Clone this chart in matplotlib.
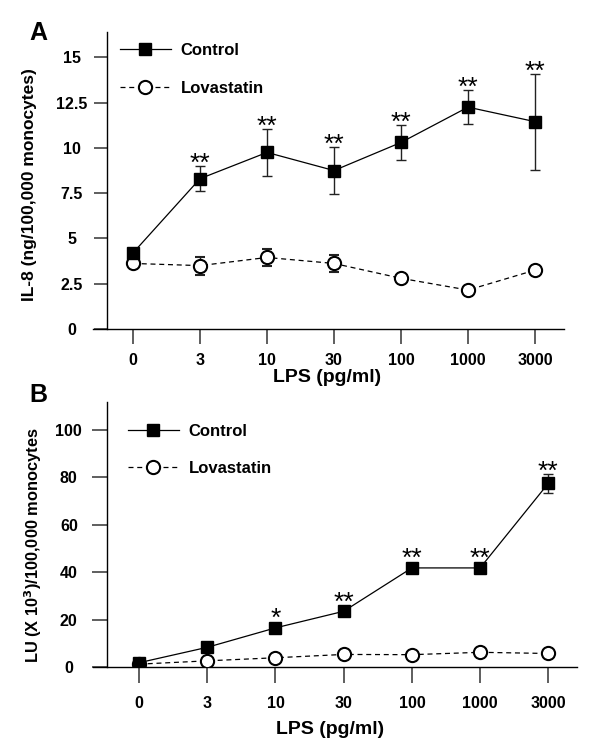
import matplotlib.pyplot as plt
from matplotlib.lines import Line2D

plt.rcParams['font.family'] = ['Liberation Sans', 'DejaVu Sans']

doses = ["0", "3", "10", "30", "100", "1000", "3000"]

# panel A: IL-8 (ng/100,000 monocytes)
il8_control = [4.2, 8.3, 9.75, 8.75, 10.3, 12.25, 11.45]
il8_control_err = [0.2, 0.7, 1.3, 1.3, 0.95, 0.93, 2.65]
il8_lova = [3.62, 3.5, 3.95, 3.62, 2.8, 2.15, 3.25]
il8_lova_err = [0.1, 0.5, 0.45, 0.45, 0.1, 0.2, 0.1]
il8_stars = ["", "**", "**", "**", "**", "**", "**"]

# panel B: LU (x10^3)/100,000 monocytes
lu_control = [1.8, 8.3, 16.5, 23.5, 41.8, 41.8, 77.5]
lu_control_err = [0.5, 1.0, 1.2, 1.0, 1.5, 1.5, 4.0]
lu_lova = [1.2, 2.6, 3.9, 5.3, 5.2, 6.2, 5.7]
lu_lova_err = [0.3, 0.4, 0.5, 0.5, 0.5, 0.6, 0.5]
lu_stars = ["", "", "*", "**", "**", "**", "**"]

DPI = 100
W, H = 600, 752
fig = plt.figure(figsize=(W / DPI, H / DPI), dpi=DPI)


def panel(box, ctrl, ctrl_err, lova, lova_err, stars, ylim, yticks, yticklabels,
          xlim, spine_x, ylen, ypad, xlen, xpad, leg_xy, leg_space):
    x0, y0, x1, y1 = box
    ax = fig.add_axes([x0 / W, 1 - y1 / H, (x1 - x0) / W, (y1 - y0) / H])
    xs = list(range(len(doses)))

    ax.errorbar(xs, lova, yerr=lova_err, color="black", lw=0.9,
                ls=(0, (4, 3)), marker="o", ms=9.5, mfc="white", mec="black",
                mew=1.5, ecolor="#222222", elinewidth=1, capsize=3.5,
                capthick=1, zorder=3)
    ax.errorbar(xs, ctrl, yerr=ctrl_err, color="black", lw=0.9, marker="s",
                ms=9, mfc="black", mec="black", ecolor="#222222",
                elinewidth=1, capsize=3.5, capthick=1, zorder=4)

    for s in ("top", "right"):
        ax.spines[s].set_visible(False)
    ax.spines["left"].set_position(("data", spine_x))
    ax.spines["left"].set_linewidth(1.0)
    ax.spines["bottom"].set_linewidth(1.0)

    ax.set_xlim(*xlim)
    ax.set_ylim(*ylim)
    ax.set_xticks(xs)
    ax.set_xticklabels(doses, fontsize=11.5, fontweight="bold")
    ax.set_yticks(yticks)
    ax.set_yticklabels(yticklabels, fontsize=11.5, fontweight="bold",
                       ha="center")
    ax.tick_params(axis="y", direction="out", length=ylen, width=1.1,
                   pad=ypad, color="#333333")
    ax.tick_params(axis="x", direction="out", length=xlen, width=1.1,
                   pad=xpad, color="#333333")

    # significance marks above each control point
    px_per_unit = (y1 - y0) / (ylim[1] - ylim[0])
    fs = 19
    for i, s in enumerate(stars):
        if not s:
            continue
        top_px = max(ctrl_err[i] * px_per_unit, 6.5)
        off_px = top_px + 10.5 - 0.58 * fs * DPI / 72
        ax.annotate(s, xy=(i, ctrl[i]), xytext=(0, off_px * 72 / DPI),
                    textcoords="offset points", ha="center", va="baseline",
                    fontsize=fs)

    h_c = Line2D([], [], color="black", lw=0.9, marker="s", ms=9)
    h_l = Line2D([], [], color="black", lw=0.9, ls=(0, (4, 3)), marker="o",
                 ms=9.5, mfc="white", mec="black", mew=1.5)
    ax.legend([h_c, h_l], ["Control", "Lovastatin"], loc="upper left",
              bbox_to_anchor=(leg_xy[0] / W, 1 - leg_xy[1] / H),
              bbox_transform=fig.transFigure, frameon=False, borderpad=0,
              borderaxespad=0, handlelength=3.05, handletextpad=0.6,
              labelspacing=leg_space, numpoints=1,
              prop={"size": 12, "weight": "bold"})
    return ax


panel((93, 32, 564, 329), il8_control, il8_control_err, il8_lova, il8_lova_err,
      il8_stars, (0, 16.4), [0, 2.5, 5, 7.5, 10, 12.5, 15],
      ["0", "2.5", "5", "7.5", "10", "12.5", "15"],
      (-0.597, 6.433), -0.388, 9.4, 15.8, 10.8, 6.5, (120, 43), 1.38)

panel((93, 402, 577, 667), lu_control, lu_control_err, lu_lova, lu_lova_err,
      lu_stars, (0, 111.8), [0, 20, 40, 60, 80, 100],
      ["0", "20", "40", "60", "80", "100"],
      (-0.674, 6.42), -0.47, 10.8, 16.6, 11.5, 9.4, (128, 424), 1.32)

fig.text(327 / W, 1 - 378 / H, "LPS (pg/ml)", ha="center", va="center",
         fontsize=14, fontweight="bold")
fig.text(330 / W, 1 - 729 / H, "LPS (pg/ml)", ha="center", va="center",
         fontsize=14, fontweight="bold")
fig.text(30 / W, 1 - 185 / H, "IL-8 (ng/100,000 monocytes)", rotation=90,
         ha="center", va="center", fontsize=12.5, fontweight="bold")
fig.text(33 / W, 1 - 545 / H, "LU (X 10$^{\\mathbf{3}}$)/100,000 monocytes",
         rotation=90, ha="center", va="center", fontsize=11.8,
         fontweight="bold")
fig.text(38 / W, 1 - 33 / H, "A", ha="center", va="center", fontsize=18,
         fontweight="bold")
fig.text(38 / W, 1 - 395 / H, "B", ha="center", va="center", fontsize=18,
         fontweight="bold")

fig.savefig("out.png", dpi=DPI)
